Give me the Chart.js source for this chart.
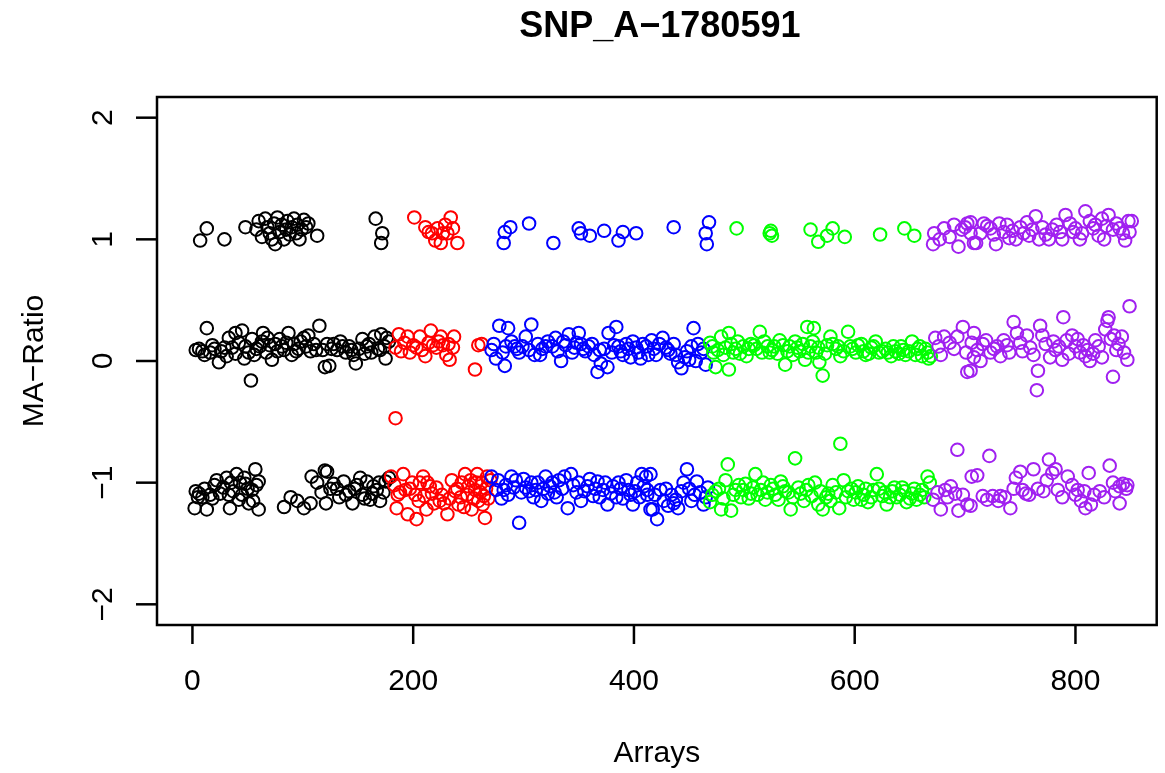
<!DOCTYPE html>
<html><head><meta charset="utf-8">
<script src="https://cdn.jsdelivr.net/npm/chart.js@4.4.0/dist/chart.umd.min.js"></script>
<style>html,body{margin:0;padding:0;background:#fff}canvas{display:block}</style>
</head><body>
<canvas id="c" width="1165" height="773"></canvas>
<script>
const chartTitle = "SNP_A\u22121780591";
const xAxisTitle = "Arrays";
const yAxisTitle = "MA\u2212Ratio";
const xTicks = [0, 200, 400, 600, 800];
const yTicks = [-2, -1, 0, 1, 2];

// [array index, MA-ratio]
const blackPoints = [
 [7,0.99],[13,1.09],[29,1.0],[48,1.1],[58,1.08],[60,1.15],[63,1.02],[66,1.17],[68,1.1],[70,1.05],[72,1.0],[74,1.13],[75,0.96],[77,1.18],[79,1.06],[81,1.12],[83,1.0],[85,1.08],[86,1.15],[88,1.04],[90,1.1],[92,1.17],[94,1.05],[95,1.12],[97,1.0],[99,1.08],[101,1.16],[103,1.1],[105,1.13],[113,1.03],[166,1.17],[172,1.05],[171,0.97],
 [3,0.09],[6,0.1],[9,0.08],[13,0.27],[16,0.07],[20,0.1],[24,-0.01],[29,0.11],[33,0.19],[36,0.11],[39,0.23],[39,0.06],[45,0.25],[48,0.12],[51,0.07],[54,0.18],[56,0.05],[53,-0.16],[61,0.12],[64,0.23],[67,0.07],[70,0.13],[72,0.01],[75,0.14],[79,0.18],[83,0.09],[87,0.23],[90,0.05],[92,0.14],[96,0.1],[98,0.16],[101,0.19],[105,0.21],[107,0.08],[110,0.14],[115,0.29],[118,0.09],[120,-0.05],[122,0.14],[124,-0.04],[128,0.14],[131,0.09],[134,0.16],[139,0.07],[142,0.12],[146,0.05],[148,-0.02],[151,0.1],[154,0.18],[158,0.12],[162,0.07],[165,0.2],[168,0.1],[171,0.22],[174,0.12],[175,0.02],[178,0.16],
 [11,0.05],[18,0.13],[26,0.08],[31,0.04],[42,0.15],[47,0.02],[58,0.1],[63,0.16],[68,0.19],[77,0.08],[81,0.12],[85,0.15],[94,0.08],[103,0.12],[112,0.09],[126,0.1],[136,0.12],[144,0.09],[156,0.06],[160,0.14],[170,0.09],[176,0.19],
 [2,-1.21],[3,-1.07],[6,-1.09],[9,-1.12],[13,-1.22],[16,-1.1],[20,-1.02],[25,-1.09],[28,-1.04],[31,-0.96],[34,-1.21],[37,-1.07],[40,-0.93],[43,-1.0],[45,-1.1],[48,-1.01],[51,-1.17],[54,-1.06],[57,-0.89],[60,-0.99],[60,-1.22],[83,-1.2],[89,-1.12],[95,-1.15],[101,-1.21],[107,-1.17],[108,-0.95],[113,-1.0],[117,-1.08],[120,-0.9],[122,-0.91],[121,-1.17],[125,-1.05],[128,-1.01],[133,-1.12],[137,-0.99],[142,-1.07],[145,-1.17],[149,-1.02],[154,-1.1],[158,-0.99],[161,-1.14],[164,-1.03],[167,-1.06],[170,-1.15],[175,-0.99],[178,-0.96],
 [5,-1.12],[11,-1.05],[18,-1.13],[22,-0.98],[33,-1.1],[35,-1.0],[42,-1.14],[47,-0.96],[50,-1.05],[55,-1.15],[58,-1.02],[131,-1.05],[139,-1.1],[147,-1.05],[152,-0.96],[156,-1.13],[163,-1.09],[169,-1.0],[173,-1.08]
];
const redPoints = [
 [201,1.18],[211,1.1],[214,1.06],[217,1.05],[220,0.99],[222,1.09],[225,0.97],[227,1.05],[229,1.12],[231,1.05],[234,1.18],[236,1.09],[240,0.97],
 [184,0.11],[187,0.22],[189,0.08],[195,0.2],[197,0.07],[200,0.13],[203,0.11],[206,0.2],[211,0.04],[214,0.15],[216,0.25],[218,0.13],[221,0.11],[223,0.16],[227,0.13],[230,0.05],[233,0.01],[236,0.11],[237,0.2],[256,-0.07],[259,0.13],[262,0.14],[184,-0.47],
 [192,0.15],[208,0.09],[225,0.2],[232,0.14],
 [180,-0.95],[183,-1.02],[185,-1.21],[188,-1.08],[191,-0.93],[193,-1.06],[195,-1.26],[199,-1.0],[202,-1.1],[203,-1.3],[206,-1.0],[209,-0.95],[210,-1.11],[212,-1.22],[215,-1.03],[219,-1.17],[224,-1.15],[228,-1.17],[231,-1.26],[235,-0.98],[238,-1.07],[241,-1.18],[244,-1.0],[247,-0.93],[249,-1.1],[252,-0.98],[253,-1.22],[256,-1.06],[258,-0.93],[259,-1.15],[262,-1.0],[264,-1.11],[265,-1.29],[267,-0.95],[266,-1.05],[268,-1.13],[270,-0.98],
 [186,-1.1],[197,-1.05],[205,-1.15],[213,-1.0],[217,-1.09],[221,-1.04],[226,-1.1],[233,-1.13],[240,-1.05],[243,-1.12],[246,-1.2],[250,-1.03],[255,-1.13],[257,-1.0],[261,-1.08],[263,-1.18]
];
const bluePoints = [
 [282,0.97],[283,1.06],[288,1.1],[305,1.13],[327,0.97],[350,1.09],[352,1.05],[360,1.03],[373,1.07],[386,0.99],[390,1.06],[402,1.05],[436,1.1],[468,1.14],[465,1.05],[466,0.96],
 [271,0.09],[275,0.02],[278,0.29],[281,0.07],[283,-0.04],[286,0.27],[289,0.16],[292,0.12],[296,0.07],[299,0.12],[302,0.2],[307,0.3],[310,0.05],[313,0.14],[317,0.1],[322,0.16],[326,0.12],[329,0.19],[334,0.0],[338,0.13],[341,0.22],[346,0.11],[350,0.23],[352,0.14],[356,0.08],[359,0.12],[364,0.05],[367,-0.09],[370,-0.02],[373,0.1],[376,-0.05],[377,0.23],[384,0.28],[380,0.07],[386,0.12],[390,0.05],[395,0.1],[399,0.16],[404,0.07],[408,0.14],[413,0.05],[411,0.12],[416,0.17],[420,0.05],[426,0.19],[429,0.11],[433,0.06],[436,0.14],[440,-0.01],[443,-0.06],[446,0.03],[450,0.01],[454,0.27],[458,0.14],[461,0.07],[465,-0.03],
 [273,0.14],[284,0.12],[294,0.1],[305,0.09],[315,0.05],[320,0.12],[331,0.08],[336,0.16],[344,0.07],[348,0.15],[354,0.1],[362,0.14],[369,0.09],[382,0.13],[388,0.08],[393,0.14],[397,0.03],[402,0.11],[406,0.02],[418,0.1],[423,0.14],[431,0.09],[438,0.05],[448,0.08],[452,0.12],[456,0.0],[463,0.1],
 [271,-0.95],[275,-1.06],[280,-1.13],[284,-1.02],[289,-0.95],[293,-0.98],[296,-1.33],[298,-1.08],[302,-1.04],[307,-1.0],[311,-1.06],[316,-1.15],[320,-0.95],[324,-1.03],[328,-1.08],[332,-0.98],[337,-0.95],[340,-1.21],[343,-0.93],[348,-1.08],[352,-1.15],[358,-1.03],[363,-1.11],[367,-0.99],[372,-1.06],[376,-1.18],[381,-1.03],[386,-1.0],[390,-1.13],[395,-1.06],[399,-1.18],[403,-1.0],[407,-0.93],[412,-1.06],[415,-1.22],[411,-0.95],[415,-0.93],[412,-1.1],[417,-1.22],[421,-1.3],[424,-1.06],[427,-1.15],[431,-1.19],[436,-1.17],[440,-1.21],[445,-1.0],[448,-0.89],[452,-1.15],[457,-0.99],[460,-1.08],[463,-1.18],[467,-1.04],
 [277,-0.98],[282,-1.06],[286,-1.1],[291,-1.04],[300,-0.97],[305,-1.07],[309,-1.12],[313,-1.0],[318,-1.05],[322,-1.09],[326,-1.0],[330,-1.12],[335,-1.05],[345,-1.02],[350,-1.0],[355,-1.07],[360,-0.97],[365,-1.05],[369,-1.12],[374,-1.0],[379,-1.09],[384,-1.12],[388,-1.05],[393,-0.98],[397,-1.1],[401,-1.07],[405,-1.12],[409,-1.03],[419,-1.1],[429,-1.05],[434,-1.1],[438,-1.14],[443,-1.07],[450,-1.05],[455,-1.1],[465,-1.12]
];
const greenPoints = [
 [493,1.09],[523,1.05],[524,1.07],[525,1.03],[560,1.08],[567,0.98],[575,1.03],[580,1.09],[591,1.02],[623,1.04],[645,1.09],[654,1.03],
 [469,0.15],[472,0.07],[474,-0.05],[479,0.2],[483,0.11],[486,0.23],[486,-0.07],[490,0.07],[494,0.16],[499,0.12],[502,0.04],[506,0.14],[511,0.1],[514,0.24],[518,0.16],[523,0.07],[527,0.12],[532,0.17],[537,-0.03],[541,0.12],[546,0.16],[550,0.08],[555,0.01],[557,0.28],[560,0.12],[563,0.27],[562,0.16],[565,0.07],[568,-0.01],[571,-0.12],[575,0.13],[578,0.2],[583,0.1],[587,0.04],[594,0.24],[596,0.12],[601,0.07],[606,0.14],[610,0.05],[615,0.11],[619,0.16],[622,0.07],[628,0.1],[633,0.04],[637,0.08],[642,0.12],[646,0.05],[652,0.16],[657,0.1],[661,0.04],[666,0.07],[669,0.04],
 [471,0.12],[476,0.09],[481,0.05],[488,0.14],[492,0.1],[496,0.06],[504,0.1],[509,0.13],[516,0.07],[521,0.12],[525,0.09],[530,0.06],[535,0.13],[539,0.08],[544,0.05],[548,0.11],[553,0.14],[558,0.07],[567,0.11],[573,0.06],[580,0.14],[585,0.12],[590,0.08],[598,0.1],[603,0.13],[608,0.08],[613,0.06],[617,0.12],[625,0.08],[630,0.07],[635,0.12],[640,0.06],[644,0.09],[649,0.08],[655,0.05],[659,0.12],[664,0.1],[667,0.02],
 [469,-1.16],[474,-1.07],[479,-1.22],[483,-0.98],[485,-0.85],[488,-1.23],[492,-1.06],[497,-1.12],[501,-1.01],[506,-1.09],[510,-0.93],[515,-1.06],[519,-1.14],[524,-1.02],[528,-1.1],[533,-0.99],[537,-1.07],[542,-1.22],[546,-0.8],[549,-1.04],[554,-1.15],[558,-1.02],[561,-1.11],[564,-1.0],[567,-1.18],[571,-1.22],[576,-1.09],[580,-1.02],[586,-1.21],[587,-0.68],[590,-0.98],[594,-1.07],[599,-1.14],[603,-1.03],[608,-1.1],[612,-1.16],[617,-1.06],[620,-0.93],[625,-1.11],[629,-1.18],[634,-1.07],[638,-1.12],[643,-1.04],[647,-1.16],[652,-1.09],[656,-1.14],[661,-1.06],[666,-0.95],[668,-1.0],
 [471,-1.1],[477,-1.05],[481,-1.13],[490,-1.1],[495,-1.02],[499,-1.06],[504,-1.13],[508,-1.04],[512,-1.1],[517,-1.0],[521,-1.08],[526,-1.05],[531,-1.14],[535,-1.03],[540,-1.08],[544,-1.12],[551,-1.09],[556,-1.06],[569,-1.07],[574,-1.12],[578,-1.15],[583,-1.08],[592,-1.12],[597,-1.05],[601,-1.08],[606,-1.14],[610,-1.05],[615,-1.12],[622,-1.05],[627,-1.08],[632,-1.12],[636,-1.04],[641,-1.1],[645,-1.07],[650,-1.13],[654,-1.05],[659,-1.1],[663,-1.12]
];
const purplePoints = [
 [671,0.96],[672,1.05],[677,1.0],[681,1.09],[686,1.02],[690,1.12],[694,0.94],[697,1.08],[700,1.1],[702,1.13],[705,1.05],[708,0.97],[705,1.14],[710,0.97],[714,1.05],[717,1.13],[720,1.11],[723,1.09],[726,1.04],[728,0.96],[731,1.13],[735,1.06],[738,1.12],[740,1.01],[743,1.07],[746,1.0],[750,1.1],[753,1.05],[756,1.14],[758,1.03],[761,1.08],[764,1.19],[767,1.0],[770,1.1],[773,1.04],[776,1.0],[779,1.08],[783,1.12],[786,1.06],[788,1.0],[791,1.2],[795,1.13],[798,1.06],[800,1.09],[804,1.0],[806,1.05],[809,1.23],[813,1.15],[816,1.09],[818,1.12],[821,1.03],[824,1.17],[826,1.0],[828,1.11],[830,1.2],[834,1.08],[837,1.13],[840,1.09],[843,1.05],[845,0.99],[848,1.15],[849,1.06],[851,1.15],
 [673,0.19],[676,0.12],[678,0.05],[681,0.2],[686,0.15],[690,0.1],[693,0.2],[698,0.28],[701,0.07],[702,-0.09],[706,0.15],[708,0.03],[705,-0.08],[708,0.23],[711,0.09],[714,0.0],[716,0.14],[719,0.17],[723,0.07],[726,0.1],[729,0.12],[732,0.04],[735,0.17],[738,0.13],[740,0.07],[744,0.32],[747,0.23],[750,0.15],[752,0.08],[756,0.21],[759,0.11],[762,0.05],[766,-0.08],[765,-0.24],[768,0.29],[770,0.21],[773,0.14],[777,0.03],[780,0.16],[782,0.09],[785,0.12],[788,0.01],[789,0.36],[792,0.17],[794,0.06],[797,0.21],[800,0.12],[802,0.18],[804,0.07],[807,0.13],[809,0.04],[811,0.09],[813,0.0],[816,0.06],[818,0.17],[821,0.12],[824,0.03],[827,0.26],[829,0.33],[830,0.36],[832,0.18],[834,-0.13],[835,0.21],[837,0.09],[839,0.14],[842,0.2],[844,0.07],[847,0.01],[849,0.45],
 [671,-1.14],[678,-1.22],[682,-1.06],[687,-1.03],[691,-1.09],[693,-0.73],[694,-1.23],[702,-1.18],[706,-0.95],[705,-1.19],[711,-0.94],[716,-1.11],[720,-1.14],[722,-0.78],[725,-1.11],[732,-1.11],[741,-1.21],[746,-0.96],[750,-0.91],[752,-1.06],[755,-1.09],[762,-0.89],[771,-1.07],[776,-0.81],[779,-0.92],[782,-0.89],[784,-1.06],[793,-0.95],[802,-1.06],[805,-1.15],[808,-1.07],[809,-1.21],[812,-0.92],[814,-1.18],[822,-1.07],[831,-0.86],[836,-1.07],[840,-1.03],[843,-1.01],[840,-1.17],
 [675,-1.08],[684,-1.12],[698,-1.1],[730,-1.15],[736,-1.12],[744,-1.05],[758,-1.1],[766,-1.05],[774,-0.98],[788,-1.12],[797,-1.02],[800,-1.1],[817,-1.1],[826,-1.12],[834,-1.0],[846,-1.05],[847,-1.02]
];

const groups = [
  {pts: blackPoints, color: "#000000"},
  {pts: redPoints, color: "#FF0000"},
  {pts: bluePoints, color: "#0000FF"},
  {pts: greenPoints, color: "#00FF00"},
  {pts: purplePoints, color: "#A020F0"}
];

const FONT = "'Liberation Sans', Arial, Helvetica, sans-serif";

const axesPlugin = {
  id: 'rAxes',
  afterDraw(chart) {
    const ctx = chart.ctx, a = chart.chartArea;
    const xs = chart.scales.x, ys = chart.scales.y;
    ctx.save();
    ctx.strokeStyle = '#000';
    ctx.lineWidth = 2.5;
    ctx.strokeRect(a.left, a.top, a.right - a.left, a.bottom - a.top);
    ctx.fillStyle = '#000';
    ctx.font = '30px ' + FONT;
    ctx.textAlign = 'center';
    ctx.textBaseline = 'alphabetic';
    xTicks.forEach(v => {
      const px = xs.getPixelForValue(v);
      ctx.beginPath(); ctx.moveTo(px, a.bottom); ctx.lineTo(px, a.bottom + 19); ctx.stroke();
      ctx.fillText(String(v), px, 690);
    });
    yTicks.forEach(v => {
      const py = ys.getPixelForValue(v);
      ctx.beginPath(); ctx.moveTo(a.left, py); ctx.lineTo(a.left - 21, py); ctx.stroke();
      ctx.save();
      ctx.translate(112, py);
      ctx.rotate(-Math.PI / 2);
      ctx.textAlign = 'center';
      ctx.fillText(v < 0 ? '\u2212' + Math.abs(v) : String(v), 0, 0);
      ctx.restore();
    });
    ctx.fillText(xAxisTitle, (a.left + a.right) / 2, 762);
    ctx.save();
    ctx.translate(43, (a.top + a.bottom) / 2);
    ctx.rotate(-Math.PI / 2);
    ctx.textAlign = 'center';
    ctx.fillText(yAxisTitle, 0, 0);
    ctx.restore();
    ctx.font = 'bold 36px ' + FONT;
    ctx.textAlign = 'center';
    ctx.fillText(chartTitle, (a.left + a.right) / 2 + 3, 37);
    ctx.restore();
  }
};

new Chart(document.getElementById('c'), {
  type: 'scatter',
  data: {
    datasets: groups.map((g, i) => ({
      data: g.pts.map(p => ({x: p[0], y: p[1]})),
      borderColor: g.color,
      backgroundColor: 'rgba(0,0,0,0)',
      pointRadius: 6.3,
      pointBorderWidth: 2,
      pointHoverRadius: 6.3,
      order: groups.length - i
    }))
  },
  options: {
    responsive: false,
    animation: false,
    layout: {padding: {left: 157, top: 97, right: 3, bottom: 148}},
    scales: {
      x: {type: 'linear', min: -32.1, max: 873.6, display: false},
      y: {type: 'linear', min: -2.17, max: 2.17, display: false}
    },
    plugins: {legend: {display: false}, tooltip: {enabled: false}, title: {display: false}}
  },
  plugins: [axesPlugin]
});
</script>
</body></html>
